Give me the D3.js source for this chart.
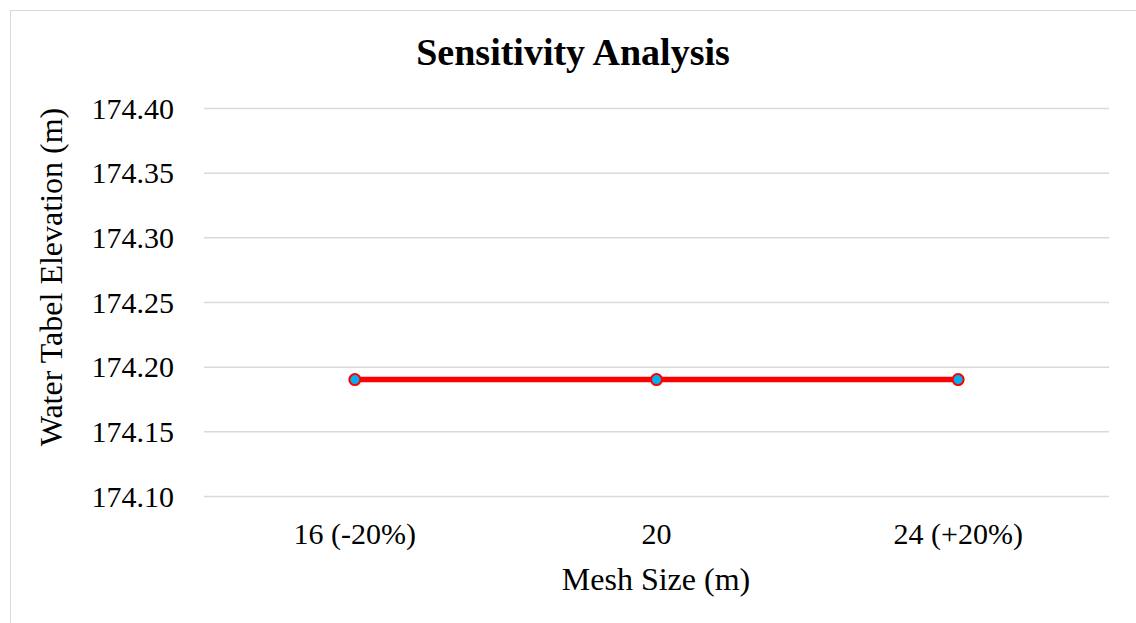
<!DOCTYPE html>
<html><head><meta charset="utf-8">
<script src="https://cdn.jsdelivr.net/npm/d3@7"></script>
<style>html,body{margin:0;padding:0;background:#fff;overflow:hidden}</style>
</head><body>
<svg id="c" width="1136" height="623"></svg>
<script>
const categories = ["16 (-20%)", "20", "24 (+20%)"];
const values = [174.19, 174.19, 174.19];
const yTicks = [174.10, 174.15, 174.20, 174.25, 174.30, 174.35, 174.40];
const title = "Sensitivity Analysis";
const xTitle = "Mesh Size (m)";
const yTitle = "Water Tabel Elevation (m)";

const svg = d3.select("#c");
const font = "'Liberation Serif','Times New Roman',serif";
const L = 204, R = 1109, T = 108, B = 496;

svg.append("rect").attr("x", 10.5).attr("y", 10.5).attr("width", 1200).attr("height", 700)
  .attr("fill", "#fff").attr("stroke", "#d9d9d9").attr("stroke-width", 1);

const x = d3.scaleBand().domain(categories).range([L, R]);
const y = d3.scaleLinear().domain([174.10, 174.40]).range([B, T]);

const yAxis = d3.axisLeft(y).tickValues(yTicks).tickFormat(d3.format(".2f")).tickSize(-(R - L)).tickPadding(30);
const gy = svg.append("g").attr("transform", `translate(${L},0)`).call(yAxis);
gy.select(".domain").remove();
gy.selectAll(".tick line").attr("stroke", "#d9d9d9").attr("stroke-width", 1.5);
gy.selectAll(".tick text").attr("font-family", font).attr("font-size", 30).attr("fill", "#000").attr("dy", "0.34em");

const xAxis = d3.axisBottom(x).tickSize(0).tickPadding(40);
const gx = svg.append("g").attr("transform", `translate(0,${B})`).call(xAxis);
gx.select(".domain").remove();
gx.selectAll(".tick text").attr("font-family", font).attr("font-size", 30).attr("fill", "#000").attr("dy", "0").attr("y", 48);

const pts = categories.map((c, i) => ({c, v: values[i]}));
const line = d3.line().x(d => x(d.c) + x.bandwidth() / 2).y(d => y(d.v));
svg.append("path").datum(pts).attr("d", line).attr("fill", "none").attr("stroke", "#ff0000").attr("stroke-width", 5.5);
svg.selectAll("circle.m").data(pts).enter().append("circle").attr("class", "m")
  .attr("cx", d => x(d.c) + x.bandwidth() / 2).attr("cy", d => y(d.v)).attr("r", 5.5)
  .attr("fill", "#00b0f0").attr("stroke", "#ff0000").attr("stroke-width", 2);

svg.append("text").attr("x", 573).attr("y", 65).attr("text-anchor", "middle")
  .attr("font-family", font).attr("font-weight", "bold").attr("font-size", 38).attr("fill", "#000").text(title);
svg.append("text").attr("x", 656).attr("y", 590).attr("text-anchor", "middle")
  .attr("font-family", font).attr("font-size", 32).attr("fill", "#000").text(xTitle);
svg.append("text").attr("transform", "translate(62,277) rotate(-90)").attr("text-anchor", "middle")
  .attr("font-family", font).attr("font-size", 32).attr("fill", "#000").text(yTitle);
</script>
</body></html>
